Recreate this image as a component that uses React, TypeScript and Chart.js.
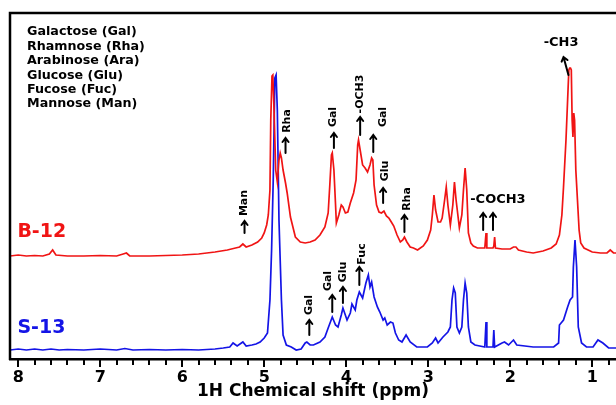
import React, { useEffect, useRef } from "react";
import { Chart, registerables } from "chart.js";

Chart.register(...registerables);

// ---- spectrum data (ppm, intensity above own baseline) ----
const RED_PPM = [8.1, 8.0, 7.9, 7.8, 7.7, 7.62, 7.58, 7.54, 7.4, 7.2, 7.0, 6.8, 6.72, 6.68, 6.64, 6.4, 6.2, 6.0, 5.8, 5.6, 5.45, 5.35, 5.3, 5.26, 5.22, 5.15, 5.08, 5.03, 5.0, 4.97, 4.95, 4.93, 4.92, 4.905, 4.895, 4.88, 4.86, 4.84, 4.82, 4.805, 4.79, 4.77, 4.74, 4.72, 4.68, 4.62, 4.56, 4.5, 4.44, 4.38, 4.32, 4.26, 4.22, 4.2, 4.18, 4.17, 4.15, 4.13, 4.12, 4.09, 4.06, 4.04, 4.01, 3.98, 3.95, 3.91, 3.88, 3.86, 3.85, 3.83, 3.8, 3.77, 3.74, 3.71, 3.69, 3.675, 3.66, 3.63, 3.6, 3.57, 3.54, 3.51, 3.48, 3.45, 3.42, 3.38, 3.34, 3.31, 3.29, 3.26, 3.22, 3.18, 3.13, 3.06, 3.01, 2.97, 2.95, 2.93, 2.91, 2.88, 2.85, 2.83, 2.8, 2.78, 2.76, 2.73, 2.7, 2.68, 2.66, 2.62, 2.59, 2.57, 2.55, 2.53, 2.51, 2.48, 2.45, 2.4, 2.31, 2.295, 2.285, 2.21, 2.2, 2.19, 2.18, 2.1, 2.0, 1.96, 1.93, 1.9, 1.8, 1.72, 1.6, 1.5, 1.44, 1.4, 1.37, 1.35, 1.32, 1.3, 1.285, 1.275, 1.265, 1.255, 1.245, 1.235, 1.225, 1.215, 1.2, 1.18, 1.16, 1.14, 1.1, 1.05, 1.0, 0.9, 0.82, 0.78, 0.74, 0.71];
const RED_INT = [0, 1, 0, 0.5, 0, 2, 6, 1, 0, 0, 0.5, 0, 2, 3, 0, 0, 0.5, 1, 2, 4, 6, 8, 9, 12, 9, 11, 14, 18, 23, 31, 41, 66, 136, 180, 181, 146, 86, 74, 96, 103, 98, 86, 73, 63, 39, 19, 14, 13, 14, 16, 21, 29, 43, 71, 101, 103, 86, 51, 33, 41, 51, 49, 43, 44, 53, 63, 76, 111, 116, 106, 91, 88, 84, 91, 98, 96, 71, 51, 44, 43, 45, 40, 38, 34, 30, 21, 14, 16, 19, 14, 9, 8, 6, 10, 16, 26, 41, 61, 46, 34, 34, 38, 56, 69, 51, 31, 51, 74, 56, 28, 41, 66, 88, 66, 23, 13, 10, 8, 8, 23, 8, 8, 10, 19, 8, 7, 7, 9, 9, 6, 4, 3, 5, 8, 12, 21, 41, 69, 116, 156, 186, 188, 188, 186, 136, 119, 143, 136, 86, 56, 26, 13, 8, 6, 4, 3, 3, 6, 3, 3];

const BLUE_PPM = [8.1, 8.0, 7.9, 7.8, 7.7, 7.6, 7.5, 7.4, 7.2, 7.0, 6.8, 6.7, 6.6, 6.4, 6.2, 6.0, 5.8, 5.6, 5.5, 5.42, 5.38, 5.33, 5.26, 5.22, 5.15, 5.1, 5.05, 5.0, 4.96, 4.93, 4.91, 4.89, 4.87, 4.855, 4.84, 4.82, 4.79, 4.77, 4.73, 4.67, 4.61, 4.55, 4.5, 4.48, 4.44, 4.4, 4.32, 4.26, 4.22, 4.17, 4.13, 4.1, 4.06, 4.04, 3.99, 3.95, 3.93, 3.89, 3.87, 3.84, 3.8, 3.76, 3.73, 3.71, 3.69, 3.66, 3.62, 3.59, 3.55, 3.53, 3.5, 3.46, 3.43, 3.4, 3.36, 3.32, 3.27, 3.22, 3.14, 3.01, 2.95, 2.91, 2.88, 2.82, 2.76, 2.73, 2.71, 2.69, 2.67, 2.65, 2.62, 2.59, 2.57, 2.55, 2.53, 2.51, 2.48, 2.43, 2.31, 2.295, 2.285, 2.21, 2.2, 2.19, 2.1, 2.07, 2.02, 1.96, 1.92, 1.72, 1.47, 1.41, 1.4, 1.35, 1.3, 1.27, 1.24, 1.23, 1.21, 1.19, 1.17, 1.13, 1.07, 0.99, 0.93, 0.87, 0.8, 0.71];
const BLUE_INT = [0, 1, 0, 1, 0, 1, 0, 0.5, 0, 1, 0, 1.5, 0, 0.5, 0, 0.5, 0, 1, 2, 3, 7, 4, 8, 4, 5, 6, 8, 12, 17, 50, 100, 170, 272, 275, 240, 130, 50, 15, 5, 3, 0, 1, 7, 8, 5, 5, 8, 13, 22, 33, 25, 23, 35, 42, 30, 37, 46, 40, 50, 58, 52, 67, 75, 63, 68, 53, 43, 38, 30, 32, 25, 28, 27, 17, 10, 8, 15, 8, 3, 3, 7, 12, 7, 13, 18, 23, 50, 62, 57, 23, 17, 23, 50, 67, 57, 23, 8, 5, 3, 28, 3, 3, 20, 3, 7, 8, 5, 10, 5, 3, 3, 7, 25, 30, 43, 50, 53, 83, 110, 83, 23, 7, 3, 3, 10, 7, 2, 2];

const RED_OFFSET = 103;
const BLUE_OFFSET = 9;

const SAMPLE_NAMES = ["B-12", "S-13"];
const SAMPLE_LEVELS = [127, 31];

const LEGEND_LINES = [
  "Galactose (Gal)",
  "Rhamnose (Rha)",
  "Arabinose (Ara)",
  "Glucose (Glu)",
  "Fucose (Fuc)",
  "Mannose (Man)",
];

const AXIS_TICKS = [8.0, 7.8, 7.6, 7.4, 7.2, 7.0, 6.8, 6.6, 6.4, 6.2, 6.0, 5.8, 5.6, 5.4, 5.2, 5.0, 4.8, 4.6, 4.4, 4.2, 4.0, 3.8, 3.6, 3.4, 3.2, 3.0, 2.8, 2.6, 2.4, 2.2, 2.0, 1.8, 1.6, 1.4, 1.2, 1.0, 0.8];

// annotations: text position (ppm, level), rotated?, arrows [ppmTail, levelTail, ppmTip, levelTip]
const ANNOTATIONS = [
  { text: "Man", p: 5.24, v: 156, rot: true, arrows: [[5.24, 126, 5.24, 138]] },
  { text: "Rha", p: 4.72, v: 238, rot: true, arrows: [[4.74, 206, 4.74, 221]] },
  { text: "Gal", p: 4.16, v: 242, rot: true, arrows: [[4.15, 211, 4.15, 226]] },
  { text: "-OCH3", p: 3.83, v: 265, rot: true, arrows: [[3.83, 224, 3.83, 242]] },
  { text: "Gal", p: 3.55, v: 242, rot: true, arrows: [[3.67, 207, 3.67, 224]] },
  { text: "Glu", p: 3.52, v: 188, rot: true, arrows: [[3.55, 156, 3.55, 171]] },
  { text: "Rha", p: 3.26, v: 160, rot: true, arrows: [[3.29, 127, 3.29, 144]] },
  { text: "-COCH3", p: 2.15, v: 159, rot: false, arrows: [[2.33, 129, 2.33, 146], [2.21, 129, 2.21, 146]] },
  { text: "-CH3", p: 1.38, v: 316, rot: false, arrows: [[1.29, 284, 1.35, 302]] },
  { text: "Gal", p: 4.45, v: 54, rot: true, arrows: [[4.45, 24, 4.45, 39]] },
  { text: "Gal", p: 4.22, v: 78, rot: true, arrows: [[4.17, 47, 4.17, 64]] },
  { text: "Glu", p: 4.04, v: 87, rot: true, arrows: [[4.04, 56, 4.04, 72]] },
  { text: "Fuc", p: 3.8, v: 105, rot: true, arrows: [[3.84, 74, 3.84, 92]] },
];

const RED = "#f01414";
const BLUE = "#1414e6";
const FONT = "'DejaVu Sans', sans-serif";

const isMajor = (v: number) => Math.abs(v - Math.round(v)) < 1e-6;

function drawArrow(ctx: CanvasRenderingContext2D, x1: number, y1: number, x2: number, y2: number) {
  const ang = Math.atan2(y2 - y1, x2 - x1);
  const h = 5;
  ctx.beginPath();
  ctx.moveTo(x1, y1);
  ctx.lineTo(x2, y2);
  ctx.moveTo(x2 - h * Math.cos(ang - 0.65), y2 - h * Math.sin(ang - 0.65));
  ctx.lineTo(x2, y2);
  ctx.lineTo(x2 - h * Math.cos(ang + 0.65), y2 - h * Math.sin(ang + 0.65));
  ctx.stroke();
}

const overlayPlugin = {
  id: "overlay",
  afterDraw(chart: any) {
    const { ctx, chartArea, scales } = chart;
    const xs = scales.x;
    const ys = scales.y;
    ctx.save();
    // frame: top and left borders
    ctx.strokeStyle = "#000";
    ctx.lineWidth = 2.5;
    ctx.beginPath();
    ctx.moveTo(chartArea.left, chartArea.bottom + 1);
    ctx.lineTo(chartArea.left, chartArea.top);
    ctx.lineTo(chartArea.right + 2, chartArea.top);
    ctx.stroke();

    // axis ticks (major longer than minor)
    ctx.fillStyle = "#000";
    AXIS_TICKS.forEach((v) => {
      const px = Math.round(xs.getPixelForValue(v));
      ctx.fillRect(px - 1, Math.round(chartArea.bottom), 2, isMajor(v) ? 8 : 6);
    });

    // legend text
    ctx.fillStyle = "#000";
    ctx.font = `bold 12.7px ${FONT}`;
    ctx.textAlign = "left";
    ctx.textBaseline = "middle";
    LEGEND_LINES.forEach((t, i) => {
      ctx.fillText(t, chartArea.left + 17, chartArea.top + 19 + i * 14.4);
    });

    // sample names
    ctx.font = `bold 19px ${FONT}`;
    SAMPLE_NAMES.forEach((t, i) => {
      ctx.fillStyle = i === 0 ? RED : BLUE;
      ctx.fillText(t, xs.getPixelForValue(8.01), ys.getPixelForValue(SAMPLE_LEVELS[i]));
    });

    // annotations
    ctx.fillStyle = "#000";
    ctx.strokeStyle = "#000";
    ctx.lineWidth = 2;
    ctx.lineCap = "round";
    ANNOTATIONS.forEach((a) => {
      a.arrows.forEach((ar) => {
        drawArrow(
          ctx,
          xs.getPixelForValue(ar[0]),
          ys.getPixelForValue(ar[1]),
          xs.getPixelForValue(ar[2]),
          ys.getPixelForValue(ar[3])
        );
      });
      const x = xs.getPixelForValue(a.p);
      const y = ys.getPixelForValue(a.v);
      ctx.textAlign = "center";
      ctx.textBaseline = "middle";
      if (a.rot) {
        ctx.save();
        ctx.font = `bold 11px ${FONT}`;
        ctx.translate(x, y);
        ctx.rotate(-Math.PI / 2);
        ctx.fillText(a.text, 0, 0);
        ctx.restore();
      } else {
        ctx.font = `bold 13px ${FONT}`;
        ctx.fillText(a.text, x, y);
      }
    });
    ctx.restore();
  },
};

export default function App() {
  const ref = useRef<HTMLCanvasElement | null>(null);
  useEffect(() => {
    if (!ref.current) return;
    const red = RED_PPM.map((p, i) => ({ x: p, y: RED_OFFSET + RED_INT[i] }));
    const blue = BLUE_PPM.map((p, i) => ({ x: p, y: BLUE_OFFSET + BLUE_INT[i] }));
    const chart = new Chart(ref.current, {
      type: "line",
      data: {
        datasets: [
          { label: "B-12", data: red, borderColor: RED, borderWidth: 1.7, pointRadius: 0, tension: 0, fill: false },
          { label: "S-13", data: blue, borderColor: BLUE, borderWidth: 1.7, pointRadius: 0, tension: 0, fill: false },
        ],
      },
      options: {
        animation: false,
        responsive: false,
        devicePixelRatio: 1,
        layout: { padding: { left: 10, top: 13, right: 0, bottom: 0 } },
        plugins: { legend: { display: false }, tooltip: { enabled: false }, title: { display: false } },
        scales: {
          x: {
            type: "linear",
            reverse: true,
            min: 0.71,
            max: 8.1,
            afterBuildTicks: (s: any) => {
              s.ticks = AXIS_TICKS.map((v) => ({ value: v }));
            },
            afterFit: (s: any) => {
              s.height = 46;
              s.paddingLeft = 0;
              s.paddingRight = 0;
            },
            ticks: {
              autoSkip: false,
              maxRotation: 0,
              color: "#000",
              padding: 2,
              font: { family: FONT, weight: "bold", size: 16 },
              callback: (v: any) => (isMajor(Number(v)) ? String(Math.round(Number(v))) : ""),
            },
            grid: {
              drawOnChartArea: false,
              drawTicks: true,
              tickLength: 7,
              tickWidth: 2,
              tickColor: "rgba(0,0,0,0)",
            },
            border: { display: true, color: "#000", width: 2.5 },
            title: {
              display: true,
              text: "1H Chemical shift (ppm)",
              color: "#000",
              font: { family: FONT, weight: "bold", size: 17, lineHeight: 1.2 },
              padding: { top: 0, bottom: 3 },
            },
          },
          y: { type: "linear", display: false, min: 0, max: 346 },
        },
      },
      plugins: [overlayPlugin],
    } as any);
    return () => chart.destroy();
  }, []);
  return (
    <div style={{ position: "fixed", left: 0, top: 0, width: 616, height: 405, background: "#fff" }}>
      <canvas ref={ref} width={616} height={405} />
    </div>
  );
}
